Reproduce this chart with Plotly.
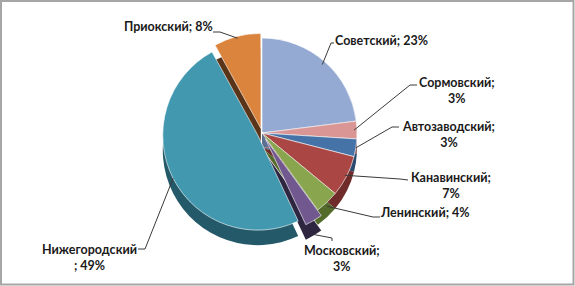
import math
import plotly.graph_objects as go

# ---- data ----
districts = ["Советский", "Сормовский", "Автозаводский", "Канавинский",
             "Ленинский", "Московский", "Нижегородский", "Приокский"]
shares = [23, 3, 3, 7, 4, 3, 49, 8]
label_texts = ["Советский; 23%", "Сормовский;<br>3%", "Автозаводский;<br>3%",
               "Канавинский;<br>7%", "Ленинский; 4%", "Московский;<br>3%",
               "Нижегородский<br>; 49%", "Приокский; 8%"]

# ---- styles ----
top_colors = ["#95AAD3", "#D99694", "#4573A7", "#AA4643",
              "#89A54E", "#71588F", "#4198AF", "#DB843D"]
side_colors = ["#5C6E91", "#8E5B5A", "#2A4A6E", "#6E2B29",
               "#556B2C", "#2E2540", "#24596A", "#5A3418"]
pulls = [0, 0, 0, 0, 0, 0.07, 0.05, 0.05]

W, H = 575, 286
CX, CY, R, DEPTH = 262, 133, 95, 15
maxpull = max(pulls)
half = R * (1 + maxpull)


def px(x):
    return x / W


def py(y):
    return 1 - y / H


def dom(cy):
    return dict(x=[px(CX - half), px(CX + half)], y=[py(cy + half), py(cy - half)])


# label layout: text centre, line end near text, elbow
label_pos = [(381, 40), (457, 90), (448, 134), (451, 185), (425, 212), (342, 258), (89, 257), (168, 27)]
line_end = [(334, 43), (417, 85), (399, 127), (408, 180), (380, 217), (332, 241), (138, 249), (213, 32)]
elbow = [(331, 43), (410, 85), (392, 127), (400, 179), (373, 217), (332, 238), (145, 249), (220, 32)]
anchor_r = [0.96, 0.97, 1.0, 0.98, 1.0, 1.0, 1.0, 0.98]
anchor_dy = [0, 0, 0, 0, 4, 14, 0, 0]

fig = go.Figure()
fig.add_trace(go.Pie(labels=districts, values=shares, sort=False, direction="clockwise",
                     rotation=0, pull=pulls, marker=dict(colors=side_colors, line=dict(width=0)),
                     textinfo="none", hoverinfo="skip", domain=dom(CY + DEPTH), showlegend=False))
fig.add_trace(go.Pie(labels=districts, values=shares, sort=False, direction="clockwise",
                     rotation=0, pull=pulls, marker=dict(colors=top_colors, line=dict(color="white", width=0.6)),
                     textinfo="none", hoverinfo="label+percent", domain=dom(CY), showlegend=False))

total = sum(shares)
cum = 0
shapes = []
annotations = []
for i, v in enumerate(shares):
    mid = (cum + v / 2) / total * 2 * math.pi
    cum += v
    rr = R * (anchor_r[i] + pulls[i])
    ax = CX + rr * math.sin(mid)
    ay = CY - rr * math.cos(mid) + anchor_dy[i]
    ex, ey = elbow[i]
    lx, ly = line_end[i]
    shapes.append(dict(type="path", xref="paper", yref="paper",
                       path=f"M {px(ax)} {py(ay)} L {px(ex)} {py(ey)} L {px(lx)} {py(ly)}",
                       line=dict(color="#3a3a3a", width=1)))
    tx, ty = label_pos[i]
    annotations.append(dict(x=px(tx), y=py(ty), xref="paper", yref="paper", text=label_texts[i],
                            showarrow=False, xanchor="center", yanchor="middle",
                            font=dict(family="Lato, 'Noto Sans', sans-serif", size=12.5, color="#1a1a1a", weight="bold")))

shapes.append(dict(type="rect", xref="paper", yref="paper", x0=px(1), y0=py(284.5), x1=px(573.5), y1=py(1),
                   line=dict(color="#a6a6a6", width=2)))

fig.update_layout(width=W, height=H, margin=dict(l=0, r=0, t=0, b=0),
                  paper_bgcolor="white", plot_bgcolor="white",
                  shapes=shapes, annotations=annotations)
fig.write_html("out.html")
